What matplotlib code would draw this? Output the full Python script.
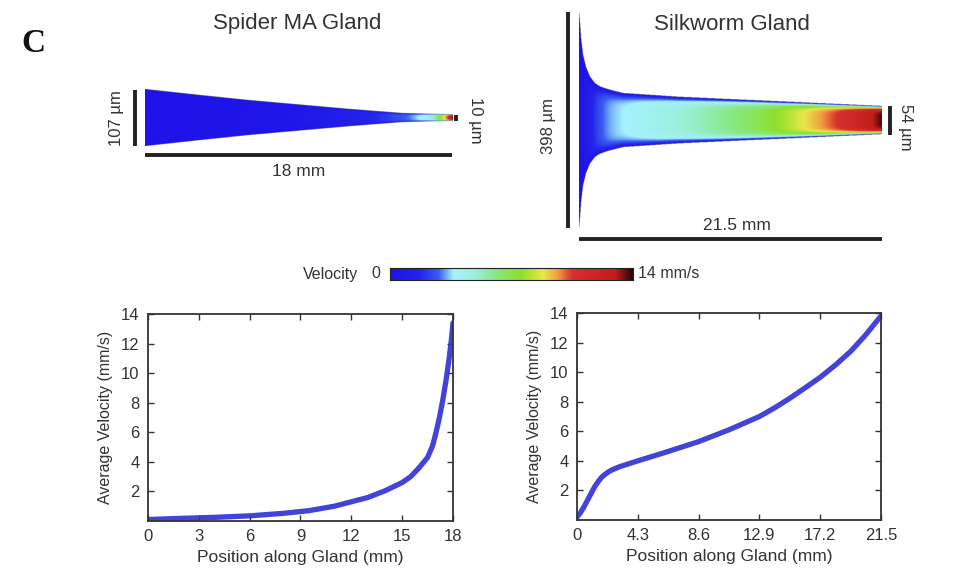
import numpy as np
import matplotlib
matplotlib.use('Agg')
import matplotlib.pyplot as plt
from matplotlib.colors import LinearSegmentedColormap

plt.rcParams['font.family'] = ['Liberation Sans', 'DejaVu Sans']

# average velocity along the gland (mm/s)
spider_pos = [0, 2, 4, 6, 8, 9.5, 11, 12, 13, 14, 15, 15.5, 16, 16.5, 16.8, 17.0, 17.2, 17.4,
              17.6, 17.75, 17.9, 18.0]
spider_vel = [0.1, 0.18, 0.25, 0.35, 0.52, 0.7, 1.0, 1.3, 1.6, 2.05, 2.6, 3.0, 3.6, 4.3, 5.1,
              6.0, 7.0, 8.2, 9.6, 10.8, 12.2, 13.4]
silk_pos = [0, 0.25, 0.5, 0.75, 1.0, 1.25, 1.5, 1.75, 2.0, 2.25, 2.5, 3.0, 4.3, 6.0, 7.3, 8.6,
            10.75, 12.9, 14.0, 15.0, 16.0, 17.2, 18.3, 19.35, 20.4, 21.5]
silk_vel = [0.2, 0.5, 0.9, 1.35, 1.8, 2.25, 2.6, 2.9, 3.1, 3.27, 3.4, 3.6, 4.0, 4.5, 4.9, 5.3,
            6.1, 7.0, 7.6, 8.2, 8.85, 9.65, 10.5, 11.4, 12.5, 13.8]

# gland outlines: half width (um) along the gland (mm)
spider_shape_pos = [0, 3, 6, 9, 12, 15, 16.5, 18]
spider_shape_half = [53.5, 43, 33, 24.5, 16, 8.5, 7, 6]
silk_shape_pos = [0, 0.07, 0.14, 0.28, 0.5, 0.78, 1.14, 1.49, 2.2, 3.12, 7.1, 11.36, 21.5]
silk_shape_half = [198, 175, 150, 120, 97, 80, 68, 62, 56, 50, 43, 38, 26]

spider_ticks = [0, 3, 6, 9, 12, 15, 18]
silk_ticks = [0, 4.3, 8.6, 12.9, 17.2, 21.5]
vel_ticks = [2, 4, 6, 8, 10, 12, 14]

cmap = LinearSegmentedColormap.from_list('vel', [
    (0.0, '#1e12e8'), (0.12, '#2424ec'), (0.20, '#3a5ef0'), (0.26, '#a6f2ff'),
    (0.34, '#9cf0e0'), (0.44, '#88e880'), (0.54, '#8ee02a'), (0.63, '#e8e848'),
    (0.69, '#f0a040'), (0.75, '#d83030'), (0.93, '#c01c1c'), (1.0, '#2a0606')])

W, H = 956, 573
fig = plt.figure(figsize=(W / 100, H / 100), dpi=100)
txt = '#333333'
bar = '#222222'


def px_axes(x0, y0, x1, y1):
    return fig.add_axes([x0 / W, 1 - y1 / H, (x1 - x0) / W, (y1 - y0) / H])


def gland(ax, pos, half, vpos, vel):
    L = pos[-1]
    hmax = max(half)
    xs = np.linspace(0, L, 800)
    ys = np.linspace(-hmax, hmax, 600)
    X, Y = np.meshgrid(xs, ys)
    h = np.interp(xs, pos, half)
    v = np.interp(xs, vpos, vel)
    s = np.abs(Y) / h
    V = v * (1 - s ** 6)
    V = np.ma.masked_where(s > 1, V)
    ax.imshow(V, extent=[0, L, -hmax, hmax], origin='lower', cmap=cmap,
              vmin=0, vmax=14, aspect='auto', interpolation='bilinear')


# ---- spider gland (px: 0 mm -> 145, 18 mm -> 452; center y 118, 0.53 px/um)
sx = lambda p: (p - 145) / 17.06
sy = lambda p: (118 - p) / 0.53
ax = px_axes(95, 60, 500, 185)
gland(ax, spider_shape_pos, spider_shape_half, spider_pos, spider_vel)
ax.plot([sx(135)] * 2, [53.5, -53.5], color=bar, lw=2.8, solid_capstyle='butt')
ax.plot([0, 18], [sy(155)] * 2, color=bar, lw=2.8, solid_capstyle='butt')
ax.plot([sx(456)] * 2, [5, -5], color=bar, lw=2.8, solid_capstyle='butt')
ax.text(9, sy(172), '18 mm', ha='center', va='center', fontsize=12.5, color=txt)
ax.text(sx(117), 0, '107 µm', ha='center', va='center', rotation=90, fontsize=12, color=txt)
ax.text(sx(476), sy(120), '10 µm', ha='center', va='center', rotation=270, fontsize=12, color=txt)
ax.set_xlim(sx(95), sx(500))
ax.set_ylim(sy(185), sy(60))
ax.axis('off')

# ---- silkworm gland (px: 0 mm -> 579, 21.5 mm -> 882; center y 120.5, 0.54 px/um)
wx = lambda p: (p - 579) / 14.09
wy = lambda p: (120.5 - p) / 0.54
ax = px_axes(520, 0, 940, 250)
gland(ax, silk_shape_pos, silk_shape_half, silk_pos, silk_vel)
ax.plot([wx(568)] * 2, [wy(12), wy(228)], color=bar, lw=2.8, solid_capstyle='butt')
ax.plot([0, 21.5], [wy(239)] * 2, color=bar, lw=2.8, solid_capstyle='butt')
ax.plot([wx(890)] * 2, [27, -27], color=bar, lw=2.8, solid_capstyle='butt')
ax.text(wx(737), wy(226), '21.5 mm', ha='center', va='center', fontsize=12.5, color=txt)
ax.text(wx(548), wy(126), '398 µm', ha='center', va='center', rotation=90, fontsize=12, color=txt)
ax.text(wx(906), wy(127), '54 µm', ha='center', va='center', rotation=270, fontsize=12, color=txt)
ax.set_xlim(wx(520), wx(940))
ax.set_ylim(wy(250), wy(0))
ax.axis('off')

# titles and panel letter
fig.text(297 / W, 1 - 23 / H, 'Spider MA Gland', ha='center', va='center', fontsize=16, color=txt)
fig.text(732 / W, 1 - 24 / H, 'Silkworm Gland', ha='center', va='center', fontsize=16, color=txt)
fig.text(33 / W, 1 - 43 / H, 'C', ha='center', va='center', fontsize=24, fontweight='bold',
         family='Liberation Serif', color='#111111')

# ---- colour bar
cax = px_axes(390, 268, 633, 280)
cax.imshow(np.linspace(0, 14, 256)[None, :], cmap=cmap, vmin=0, vmax=14, aspect='auto',
           extent=[0, 14, 0, 1])
cax.set_xticks([])
cax.set_yticks([])
for sp in cax.spines.values():
    sp.set_color('#222222')
fig.text(358 / W, 1 - 274 / H, 'Velocity', ha='right', va='center', fontsize=11.5, color=txt)
fig.text(376 / W, 1 - 274 / H, '0', ha='center', va='center', fontsize=11.5, color=txt)
fig.text(638 / W, 1 - 274 / H, '14 mm/s', ha='left', va='center', fontsize=11.5, color=txt)


# ---- velocity curves
def curve_axes(box, pos, vel, ticks):
    ax = px_axes(*box)
    ax.plot(pos, vel, color='#2e2ed6', lw=3.8, alpha=0.9, solid_capstyle='round',
            solid_joinstyle='round')
    ax.set_xlim(ticks[0], ticks[-1])
    ax.set_ylim(0, 14)
    ax.set_xticks(ticks)
    ax.set_xticklabels([f'{t:g}' for t in ticks])
    ax.set_yticks(vel_ticks)
    ax.tick_params(direction='in', length=4, width=1, top=True, right=True,
                   labelsize=12, labelcolor=txt, color='#333333', pad=6)
    for sp in ax.spines.values():
        sp.set_linewidth(1.3)
        sp.set_color('#333333')
    ax.set_xlabel('Position along Gland (mm)', fontsize=12.5, color=txt, labelpad=4)
    ax.set_ylabel('Average Velocity (mm/s)', fontsize=11.5, color=txt, labelpad=6)
    return ax


curve_axes((148, 314, 453, 521), spider_pos, spider_vel, spider_ticks)
curve_axes((577, 313, 881, 520), silk_pos, silk_vel, silk_ticks)

fig.savefig('out.png', dpi=100)
